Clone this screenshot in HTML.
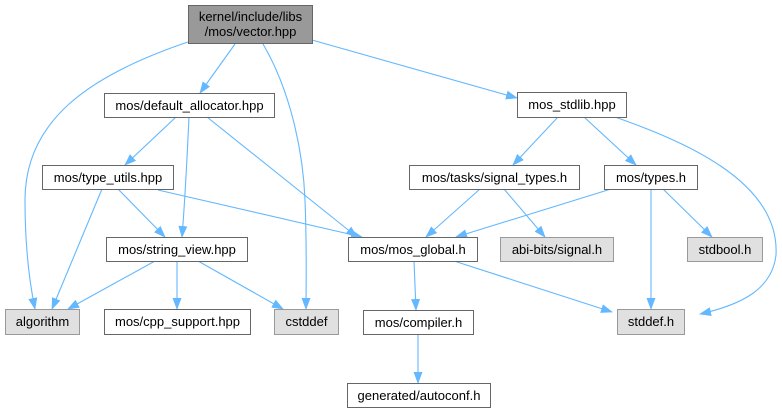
<!DOCTYPE html>
<html><head><style>
html,body{margin:0;padding:0;background:#fff;}
svg{display:block;}
text{font-family:"Liberation Sans",sans-serif;font-size:13px;fill:#000;}
</style></head><body>
<svg width="782" height="413" viewBox="0 0 782 413" xmlns="http://www.w3.org/2000/svg">
<defs>
<marker id="a" markerWidth="12" markerHeight="12" refX="11" refY="6" orient="auto" markerUnits="userSpaceOnUse">
<path d="M0,1.5 L12,6 L0,10.5 Z" fill="#63b8ff"/>
</marker>
</defs>
<g fill="none" stroke="#63b8ff" stroke-width="1.1" marker-end="url(#a)">
<path d="M188,42 C90,75 25,120 25,200 C25,250 30,285 35,309"/>
<path d="M235,44 L200,93"/>
<path d="M263,44 C290,90 303,150 305,200 C307,250 306,285 306,309"/>
<path d="M312,40 L517,98"/>
<path d="M176,117 L125,165"/>
<path d="M189,117 C187,160 185,200 182,237"/>
<path d="M207,117 L357,237"/>
<path d="M102,189 L52,309"/>
<path d="M118,189 L165,237"/>
<path d="M158,190 L362,237"/>
<path d="M155,261 L68,309"/>
<path d="M177,261 L177,309"/>
<path d="M198,261 L283,309"/>
<path d="M558,117 L513,165"/>
<path d="M584,117 L636,165"/>
<path d="M615,117 C680,140 780,180 776,255 C772,290 740,305 700,314"/>
<path d="M480,189 L426,237"/>
<path d="M504,189 L545,237"/>
<path d="M611,189 L456,237"/>
<path d="M651,189 L651,309"/>
<path d="M663,189 L712,237"/>
<path d="M454,261 L612,312"/>
<path d="M414,261 L416,310"/>
<path d="M418,334 L418,383"/>
</g>
<g stroke-width="1">
<rect x="188.5" y="5.5" width="124" height="38" fill="#999" stroke="#666"/>
<rect x="104.5" y="93.5" width="170" height="24" fill="#fff" stroke="#666"/>
<rect x="42.5" y="165.5" width="131" height="24" fill="#fff" stroke="#666"/>
<rect x="106.5" y="237.5" width="141" height="24" fill="#fff" stroke="#666"/>
<rect x="5.5" y="309.5" width="74" height="25" fill="#e0e0e0" stroke="#999"/>
<rect x="104.5" y="309.5" width="146" height="25" fill="#fff" stroke="#666"/>
<rect x="274.5" y="309.5" width="64" height="25" fill="#e0e0e0" stroke="#999"/>
<rect x="517.5" y="92.5" width="109" height="25" fill="#fff" stroke="#666"/>
<rect x="409.5" y="165.5" width="170" height="24" fill="#fff" stroke="#666"/>
<rect x="604.5" y="165.5" width="93" height="24" fill="#fff" stroke="#666"/>
<rect x="348.5" y="237.5" width="129" height="24" fill="#fff" stroke="#666"/>
<rect x="500.5" y="237.5" width="113" height="24" fill="#e0e0e0" stroke="#999"/>
<rect x="687.5" y="237.5" width="75" height="24" fill="#e0e0e0" stroke="#999"/>
<rect x="617.5" y="309.5" width="67" height="25" fill="#e0e0e0" stroke="#999"/>
<rect x="363.5" y="310.5" width="110" height="24" fill="#fff" stroke="#666"/>
<rect x="347.5" y="383.5" width="143" height="24" fill="#fff" stroke="#666"/>
</g>
<g text-anchor="middle">
<text x="250.5" y="21">kernel/include/libs</text>
<text x="250.5" y="36">/mos/vector.hpp</text>
<text x="189.5" y="110">mos/default_allocator.hpp</text>
<text x="108" y="182">mos/type_utils.hpp</text>
<text x="177" y="254">mos/string_view.hpp</text>
<text x="42.5" y="326">algorithm</text>
<text x="177.5" y="326">mos/cpp_support.hpp</text>
<text x="306.5" y="326">cstddef</text>
<text x="572" y="109">mos_stdlib.hpp</text>
<text x="494.5" y="182">mos/tasks/signal_types.h</text>
<text x="651" y="182">mos/types.h</text>
<text x="413" y="254">mos/mos_global.h</text>
<text x="557" y="254">abi-bits/signal.h</text>
<text x="725" y="254">stdbool.h</text>
<text x="651" y="326">stddef.h</text>
<text x="418.5" y="327">mos/compiler.h</text>
<text x="419" y="400">generated/autoconf.h</text>
</g>
</svg>
</body></html>
